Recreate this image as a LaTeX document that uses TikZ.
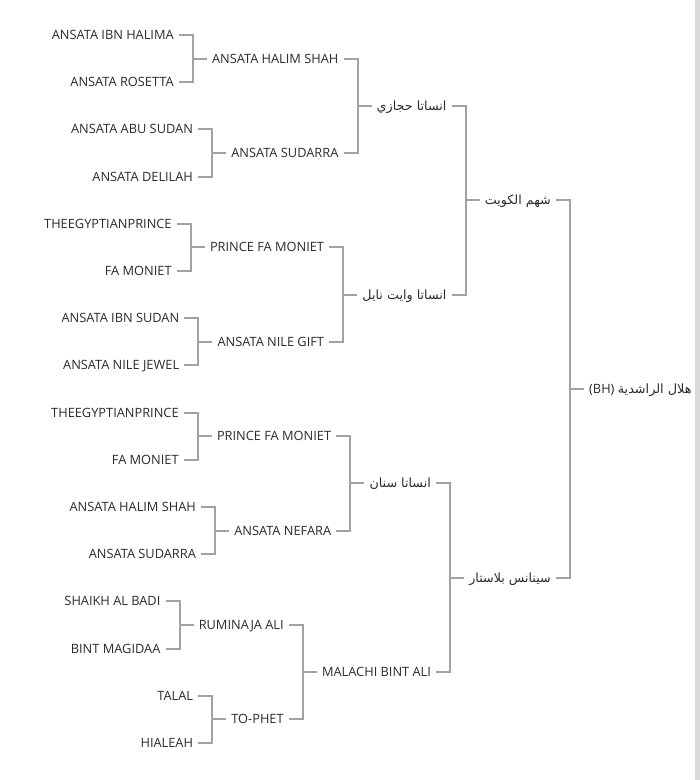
\documentclass[tikz,border=0pt]{standalone}
\usepackage{fontspec}
\setmainfont{Open Sans}
\newfontfamily\arabicfont[Script=Arabic]{DejaVu Sans}
\TeXXeTstate=1
\usetikzlibrary{positioning}
\definecolor{txtgray}{HTML}{2A2A2A}
\definecolor{linegray}{HTML}{A2A2A2}
\definecolor{edgegray}{HTML}{DADADA}
\tikzset{
  horse/.style={font=\fontsize{12.8}{15}\selectfont, text=txtgray, inner xsep=5pt, inner ysep=0pt, text height=9pt, text depth=0pt},
  arab/.style={horse, font=\arabicfont\fontsize{12.7}{15}\selectfont},
  link/.style={draw=linegray, line width=2pt}
}

\begin{document}
\begin{tikzpicture}[x=1pt, y=1pt]
\useasboundingbox (0,0) rectangle (700,780);
\fill[edgegray] (695,0) rectangle (700,780);
\node[horse, anchor=west] (root) at (584,391) {(BH) {\arabicfont\beginR هلال الراشدية\endR}};
\node[arab, left=28pt of root, yshift=188.8pt] (kuwait) {\beginR شهم الكويت\endR};
\node[arab, left=28pt of root, yshift=-188.8pt] (lastar) {\beginR سينانس بلاستار\endR};
\node[arab, left=28pt of kuwait, yshift=94.4pt] (hijazi) {\beginR انساتا حجازي\endR};
\node[arab, left=28pt of kuwait, yshift=-94.4pt] (nile) {\beginR انساتا وايت نايل\endR};
\node[arab, left=28pt of lastar, yshift=94.4pt] (sinan) {\beginR انساتا سنان\endR};
\node[horse, left=28pt of lastar, yshift=-94.4pt] (malachi) {MALACHI BINT ALI};
\node[horse, left=28pt of hijazi, yshift=47.2pt] (halim) {ANSATA HALIM SHAH};
\node[horse, left=28pt of hijazi, yshift=-47.2pt] (sudarra) {ANSATA SUDARRA};
\node[horse, left=28pt of nile, yshift=47.2pt] (prince) {PRINCE FA MONIET};
\node[horse, left=28pt of nile, yshift=-47.2pt] (gift) {ANSATA NILE GIFT};
\node[horse, left=28pt of sinan, yshift=47.2pt] (princeb) {PRINCE FA MONIET};
\node[horse, left=28pt of sinan, yshift=-47.2pt] (nefara) {ANSATA NEFARA};
\node[horse, left=28pt of malachi, yshift=47.2pt] (ruminaja) {RUMINAJA ALI};
\node[horse, left=28pt of malachi, yshift=-47.2pt] (tophet) {TO-PHET};
\node[horse, left=28pt of halim, yshift=23.6pt] (halima) {ANSATA IBN HALIMA};
\node[horse, left=28pt of halim, yshift=-23.6pt] (rosetta) {ANSATA ROSETTA};
\node[horse, left=28pt of sudarra, yshift=23.6pt] (abusudan) {ANSATA ABU SUDAN};
\node[horse, left=28pt of sudarra, yshift=-23.6pt] (delilah) {ANSATA DELILAH};
\node[horse, left=28pt of prince, yshift=23.6pt] (egypt) {THEEGYPTIANPRINCE};
\node[horse, left=28pt of prince, yshift=-23.6pt] (moniet) {FA MONIET};
\node[horse, left=28pt of gift, yshift=23.6pt] (ibnsudan) {ANSATA IBN SUDAN};
\node[horse, left=28pt of gift, yshift=-23.6pt] (jewel) {ANSATA NILE JEWEL};
\node[horse, left=28pt of princeb, yshift=23.6pt] (egyptb) {THEEGYPTIANPRINCE};
\node[horse, left=28pt of princeb, yshift=-23.6pt] (monietb) {FA MONIET};
\node[horse, left=28pt of nefara, yshift=23.6pt] (halimb) {ANSATA HALIM SHAH};
\node[horse, left=28pt of nefara, yshift=-23.6pt] (sudarrab) {ANSATA SUDARRA};
\node[horse, left=28pt of ruminaja, yshift=23.6pt] (badi) {SHAIKH AL BADI};
\node[horse, left=28pt of ruminaja, yshift=-23.6pt] (magidaa) {BINT MAGIDAA};
\node[horse, left=28pt of tophet, yshift=23.6pt] (talal) {TALAL};
\node[horse, left=28pt of tophet, yshift=-23.6pt] (hialeah) {HIALEAH};
\draw[link] (kuwait.east) -- ++(14,0) |- (lastar.east);
\draw[link] (root.west) -- ++(-14,0);
\draw[link] (hijazi.east) -- ++(14,0) |- (nile.east);
\draw[link] (kuwait.west) -- ++(-14,0);
\draw[link] (sinan.east) -- ++(14,0) |- (malachi.east);
\draw[link] (lastar.west) -- ++(-14,0);
\draw[link] (halim.east) -- ++(14,0) |- (sudarra.east);
\draw[link] (hijazi.west) -- ++(-14,0);
\draw[link] (prince.east) -- ++(14,0) |- (gift.east);
\draw[link] (nile.west) -- ++(-14,0);
\draw[link] (princeb.east) -- ++(14,0) |- (nefara.east);
\draw[link] (sinan.west) -- ++(-14,0);
\draw[link] (ruminaja.east) -- ++(14,0) |- (tophet.east);
\draw[link] (malachi.west) -- ++(-14,0);
\draw[link] (halima.east) -- ++(14,0) |- (rosetta.east);
\draw[link] (halim.west) -- ++(-14,0);
\draw[link] (abusudan.east) -- ++(14,0) |- (delilah.east);
\draw[link] (sudarra.west) -- ++(-14,0);
\draw[link] (egypt.east) -- ++(14,0) |- (moniet.east);
\draw[link] (prince.west) -- ++(-14,0);
\draw[link] (ibnsudan.east) -- ++(14,0) |- (jewel.east);
\draw[link] (gift.west) -- ++(-14,0);
\draw[link] (egyptb.east) -- ++(14,0) |- (monietb.east);
\draw[link] (princeb.west) -- ++(-14,0);
\draw[link] (halimb.east) -- ++(14,0) |- (sudarrab.east);
\draw[link] (nefara.west) -- ++(-14,0);
\draw[link] (badi.east) -- ++(14,0) |- (magidaa.east);
\draw[link] (ruminaja.west) -- ++(-14,0);
\draw[link] (talal.east) -- ++(14,0) |- (hialeah.east);
\draw[link] (tophet.west) -- ++(-14,0);
\end{tikzpicture}
\end{document}
